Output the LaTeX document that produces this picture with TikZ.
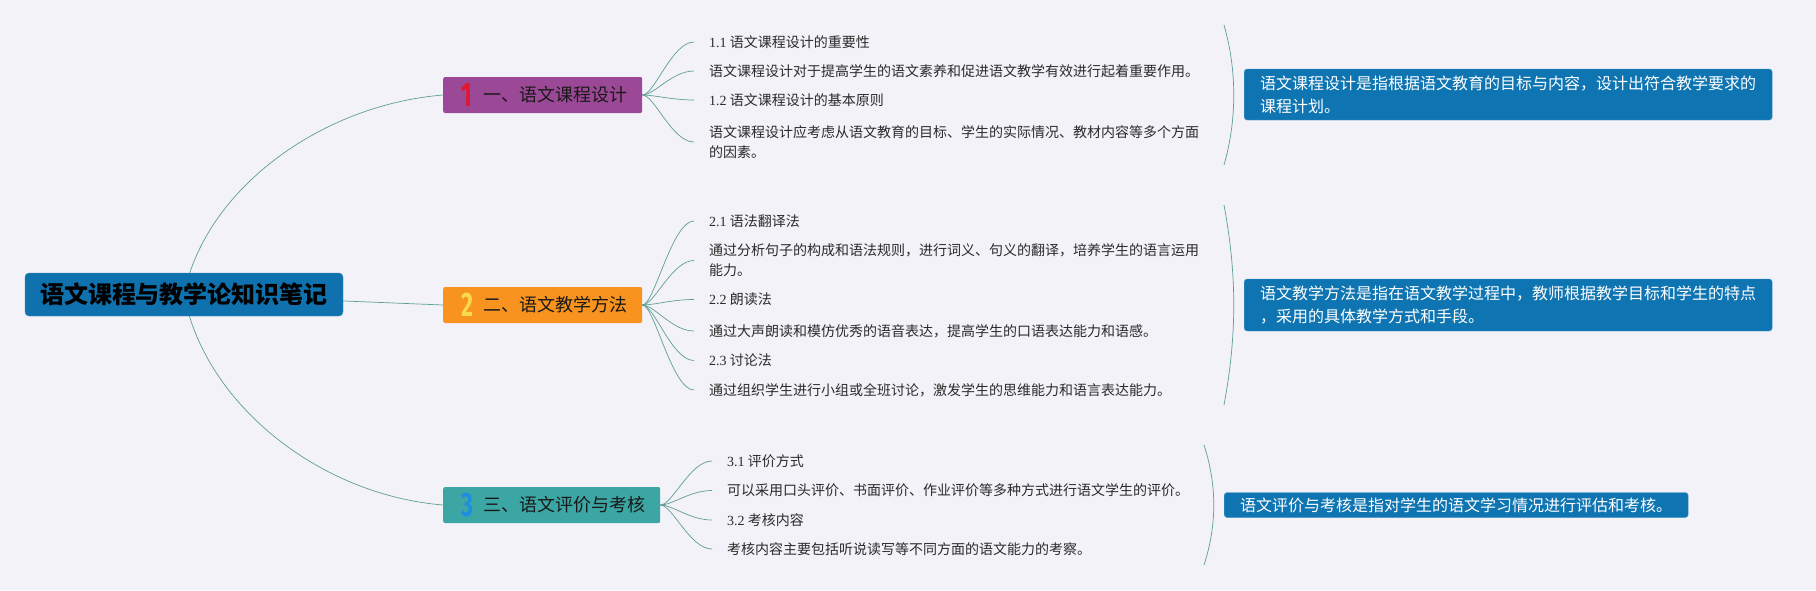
\documentclass[tikz,border=0pt]{standalone}
\usepackage{fontspec}
\usepackage{graphicx}
\setmainfont{Noto Sans CJK SC}
\newfontfamily\latn{Liberation Serif}
\newfontfamily\numfont{Fira Sans}
\usepackage{tikz}
\usetikzlibrary{backgrounds}

\definecolor{bgc}{HTML}{F2F2F8}
\definecolor{linec}{HTML}{5E9E94}
\definecolor{rootc}{HTML}{0F72AE}
\definecolor{b1c}{HTML}{9B4896}
\definecolor{b2c}{HTML}{F7931E}
\definecolor{b3c}{HTML}{3BA6A3}
\definecolor{num1c}{HTML}{E3162B}
\definecolor{num2c}{HTML}{F9DA4C}
\definecolor{num3c}{HTML}{1E8EE0}
\definecolor{sumc}{HTML}{0E75B2}
\definecolor{leafc}{HTML}{2B2B2B}

\newcommand{\bnum}[2]{\makebox[22pt][l]{\raisebox{-5pt}{\scalebox{0.68}[1]{\numfont\bfseries\fontsize{34}{34}\selectfont\color{#1}#2}}}}

\begin{document}
\begin{tikzpicture}[
  x=1pt, y=-1pt,
  link/.style={draw=linec, line width=0.7pt},
  rootbox/.style={fill=rootc, draw=rootc!80!white, rounded corners=4pt, inner xsep=15pt, minimum height=43pt, font=\bfseries\fontsize{24}{24}\selectfont},
  branch/.style={anchor=west, rounded corners=2pt, inner xsep=0pt, inner ysep=0pt, minimum height=36pt, text=black!90, font=\fontsize{18}{18}\selectfont},
  leaf/.style={anchor=west, inner sep=0pt, align=left, text=leafc, font=\fontsize{14}{20}\selectfont},
  summ/.style={anchor=west, fill=sumc, draw=sumc!75!white, rounded corners=3pt, inner xsep=16pt, inner ysep=5pt, align=left, text=white, font=\fontsize{16}{23}\selectfont}
]
\useasboundingbox (0,0) rectangle (1816,590);
\node[rootbox] (root) at (184,294.5) {语文课程与教学论知识笔记};

\node[branch, fill=b1c] (b1) at (443,95) {\kern18pt\bnum{num1c}{1}一、语文课程设计\kern15pt};
\node[branch, fill=b2c] (b2) at (443,305) {\kern18pt\bnum{num2c}{2}二、语文教学方法\kern15pt};
\node[branch, fill=b3c] (b3) at (443,505) {\kern18pt\bnum{num3c}{3}三、语文评价与考核\kern15pt};

\node[leaf] (l11) at (709,42) {{\latn 1.1} 语文课程设计的重要性};
\node[leaf] (l12) at (709,71) {语文课程设计对于提高学生的语文素养和促进语文教学有效进行起着重要作用。};
\node[leaf] (l13) at (709,100) {{\latn 1.2} 语文课程设计的基本原则};
\node[leaf] (l14) at (709,142) {语文课程设计应考虑从语文教育的目标、学生的实际情况、教材内容等多个方面\\的因素。};

\node[leaf] (l21) at (709,221) {{\latn 2.1} 语法翻译法};
\node[leaf] (l22) at (709,260.5) {通过分析句子的构成和语法规则，进行词义、句义的翻译，培养学生的语言运用\\能力。};
\node[leaf] (l23) at (709,299.5) {{\latn 2.2} 朗读法};
\node[leaf] (l24) at (709,331) {通过大声朗读和模仿优秀的语音表达，提高学生的口语表达能力和语感。};
\node[leaf] (l25) at (709,360.5) {{\latn 2.3} 讨论法};
\node[leaf] (l26) at (709,390) {通过组织学生进行小组或全班讨论，激发学生的思维能力和语言表达能力。};

\node[leaf] (l31) at (727,461) {{\latn 3.1} 评价方式};
\node[leaf] (l32) at (727,490.5) {可以采用口头评价、书面评价、作业评价等多种方式进行语文学生的评价。};
\node[leaf] (l33) at (727,520) {{\latn 3.2} 考核内容};
\node[leaf] (l34) at (727,549) {考核内容主要包括听说读写等不同方面的语文能力的考察。};

\node[summ, minimum height=51pt] (s1) at (1244,94.5) {语文课程设计是指根据语文教育的目标与内容，设计出符合教学要求的\\课程计划。};
\node[summ, minimum height=52pt] (s2) at (1244,305) {语文教学方法是指在语文教学过程中，教师根据教学目标和学生的特点\\，采用的具体教学方式和手段。};
\node[summ] (s3) at (1224,505) {语文评价与考核是指对学生的语文学习情况进行评估和考核。};

\begin{pgfonlayer}{background}
\fill[bgc] (0,0) rectangle (1816,590);
\draw[link] (root.center) .. controls +(21,-104.5) and +(-123,10) .. (b1.west);
\draw[link] (root.center) -- (b2.west);
\draw[link] (root.center) .. controls +(21,110) and +(-123,-10) .. (b3.west);

\draw[link] (b1.east) .. controls +(12,0) and +(-22,0) .. ([xshift=-15pt]l11.west);
\draw[link] (b1.east) .. controls +(12,0) and +(-22,0) .. ([xshift=-15pt]l12.west);
\draw[link] (b1.east) .. controls +(12,0) and +(-22,0) .. ([xshift=-15pt]l13.west);
\draw[link] (b1.east) .. controls +(12,0) and +(-22,0) .. ([xshift=-15pt]l14.west);

\draw[link] (b2.east) .. controls +(12,0) and +(-22,0) .. ([xshift=-15pt]l21.west);
\draw[link] (b2.east) .. controls +(12,0) and +(-22,0) .. ([xshift=-15pt]l22.west);
\draw[link] (b2.east) .. controls +(12,0) and +(-22,0) .. ([xshift=-15pt]l23.west);
\draw[link] (b2.east) .. controls +(12,0) and +(-22,0) .. ([xshift=-15pt]l24.west);
\draw[link] (b2.east) .. controls +(12,0) and +(-22,0) .. ([xshift=-15pt]l25.west);
\draw[link] (b2.east) .. controls +(12,0) and +(-22,0) .. ([xshift=-15pt]l26.west);

\draw[link] (b3.east) .. controls +(12,0) and +(-22,0) .. ([xshift=-15pt]l31.west);
\draw[link] (b3.east) .. controls +(12,0) and +(-22,0) .. ([xshift=-15pt]l32.west);
\draw[link] (b3.east) .. controls +(12,0) and +(-22,0) .. ([xshift=-15pt]l33.west);
\draw[link] (b3.east) .. controls +(12,0) and +(-22,0) .. ([xshift=-15pt]l34.west);

\draw[link] (1224,25) .. controls (1237,70) and (1237,120) .. (1224,165);
\draw[link] (1224,205) .. controls (1237,275) and (1237,335) .. (1224,405);
\draw[link] (1204,445) .. controls (1217,485) and (1217,525) .. (1204,565);
\end{pgfonlayer}
\end{tikzpicture}
\end{document}
